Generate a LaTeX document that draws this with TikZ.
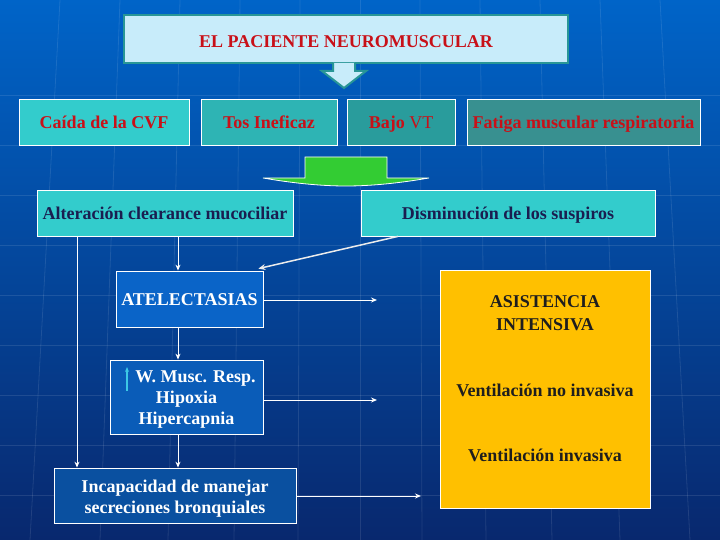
\documentclass[tikz,border=0pt]{standalone}
\usepackage{fontspec}
\setmainfont{Liberation Serif}
\usetikzlibrary{arrows.meta}
\definecolor{bgtop}{RGB}{0,100,200}
\definecolor{bgbot}{RGB}{8,40,110}
\definecolor{tealb}{RGB}{40,150,150}
\definecolor{lightc}{RGB}{200,236,250}
\definecolor{c1}{RGB}{51,204,204}
\definecolor{c2}{RGB}{46,180,180}
\definecolor{c3}{RGB}{41,156,156}
\definecolor{c4}{RGB}{56,144,144}
\definecolor{grn}{RGB}{51,204,51}
\definecolor{b1}{RGB}{10,100,200}
\definecolor{b2}{RGB}{10,92,184}
\definecolor{b3}{RGB}{10,80,160}
\definecolor{upc}{RGB}{60,200,230}
\definecolor{yel}{RGB}{255,192,0}
\definecolor{dk}{RGB}{30,30,30}
\definecolor{rd}{RGB}{200,16,24}
\definecolor{nv}{RGB}{26,30,80}
\begin{document}
\begin{tikzpicture}[x=1pt,y=-1pt,
  txt/.style={font=\bfseries\fontsize{18}{21}\selectfont},
  one/.style={text height=15pt,text depth=2pt},
  box/.style={draw=white,line width=0.8pt,inner sep=2pt,align=center,txt},
  redtxt/.style={text=rd},
  navytxt/.style={text=nv},
  arr/.style={draw=white,line width=1pt,-{Stealth[length=6pt,width=5pt]}},
  gridln/.style={white,opacity=0.10,line width=0.8pt}]
\useasboundingbox (0,0) rectangle (720,540);
\shade[top color=bgtop,bottom color=bgbot] (0,0) rectangle (720,540);
% faint background texture
\foreach \yy in {95,145,195,245,295,345,395,445,495} \draw[gridln] (0,\yy) -- (720,\yy);
\foreach \xx/\dx in {60/-30,120/-20,180/-12,240/-6,300/-2,360/0,420/2,480/6,540/12,600/20,660/30} \draw[gridln] (\xx,0) -- (\xx+\dx,540);
% top box
\node[draw=tealb,line width=2.5pt,fill=lightc,minimum width=444pt,minimum height=48pt] (top) at (346,39) {};
\node[txt,one,redtxt] (toptxt) at (346,41) {EL PACIENTE NEUROMUSCULAR};
\draw[draw=tealb,line width=2pt,fill=lightc]
  (333,63) -- (333,71) -- (322,71) -- (344,88) -- (366,71) -- (355,71) -- (355,63);
% first row
\node[box,one,redtxt,fill=c1,minimum width=170pt,minimum height=46pt] (cvf) at (104,122) {Caída de la CVF};
\node[box,one,redtxt,fill=c2,minimum width=136pt,minimum height=46pt] (tos) at (269,122) {Tos Ineficaz};
\node[box,one,redtxt,fill=c3,minimum width=108pt,minimum height=46pt] (vt) at (401,122) {Bajo \textmd{VT}};
\node[box,one,redtxt,fill=c4,minimum width=233pt,minimum height=46pt] (fat) at (583.5,122) {Fatiga muscular respiratoria};
% green arrow
\draw[white,line width=0.8pt,fill=grn]
  (305,178) -- (305,157) -- (387,157) -- (387,178) -- (429,178)
  .. controls (400,183) and (372,186) .. (346,186)
  .. controls (320,186) and (292,183) .. (263,178) -- cycle;
% second row
\node[box,one,navytxt,fill=c1,minimum width=256pt,minimum height=46pt] (alt) at (165,213) {Alteración clearance mucociliar};
\node[box,one,navytxt,fill=c1,minimum width=294pt,minimum height=46pt] (dis) at (508,213) {Disminución de los suspiros};
% left column
\node[box,one,text=white,fill=b1,minimum width=147pt,minimum height=56pt] (atel) at (189.5,299) {ATELECTASIAS};
\node[box,fill=b2,minimum width=153pt,minimum height=74pt] (wm) at (186.5,397) {};
\node[txt,text=white,align=center] (wmt) at (186.5,400) {\hspace*{18pt}W. Musc. Resp.\\Hipoxia\\Hipercapnia};
\draw[upc,line width=1.3pt,-{Stealth[length=5pt,width=4pt]}] (127,391) -- (127,367);
\node[box,fill=b3,minimum width=242pt,minimum height=55pt] (inc) at (175,495.5) {};
\node[txt,text=white,align=center] (inct) at (175,498.5) {Incapacidad de manejar\\secreciones bronquiales};
% right yellow box
\node[draw=white,line width=0.8pt,fill=yel,minimum width=210pt,minimum height=238pt] (asi) at (545,389) {};
\node[font=\bfseries\fontsize{18}{23}\selectfont,text=dk,align=center] (asit) at (545,313) {ASISTENCIA\\INTENSIVA};
\node[txt,one,text=dk] (vni) at (545,390) {Ventilación no invasiva};
\node[txt,one,text=dk] (vi) at (545,455) {Ventilación invasiva};
% free ends
\coordinate (e1) at (377,300);
\coordinate (e2) at (377,400);
\coordinate (e3) at (421,496);
% connectors
\draw[arr] ([xshift=13pt]alt.south) -- ([xshift=-11.5pt]atel.north);
\draw[white!85!gray,line width=1.5pt,-{Stealth[length=7pt,width=6pt]}] ([xshift=-110pt]dis.south) -- ([xshift=-5pt,yshift=2pt]atel.north east);
\draw[arr] ([xshift=-88pt]alt.south) -- ([xshift=-98pt]inc.north);
\draw[arr] ([yshift=-1pt]atel.east) -- (e1);
\draw[arr] ([xshift=-11.5pt]atel.south) -- ([xshift=-8.5pt]wm.north);
\draw[arr] ([yshift=-3pt]wm.east) -- (e2);
\draw[arr] ([xshift=-8.5pt]wm.south) -- ([xshift=3pt]inc.north);
\draw[arr] ([yshift=-0.5pt]inc.east) -- (e3);
\end{tikzpicture}
\end{document}
